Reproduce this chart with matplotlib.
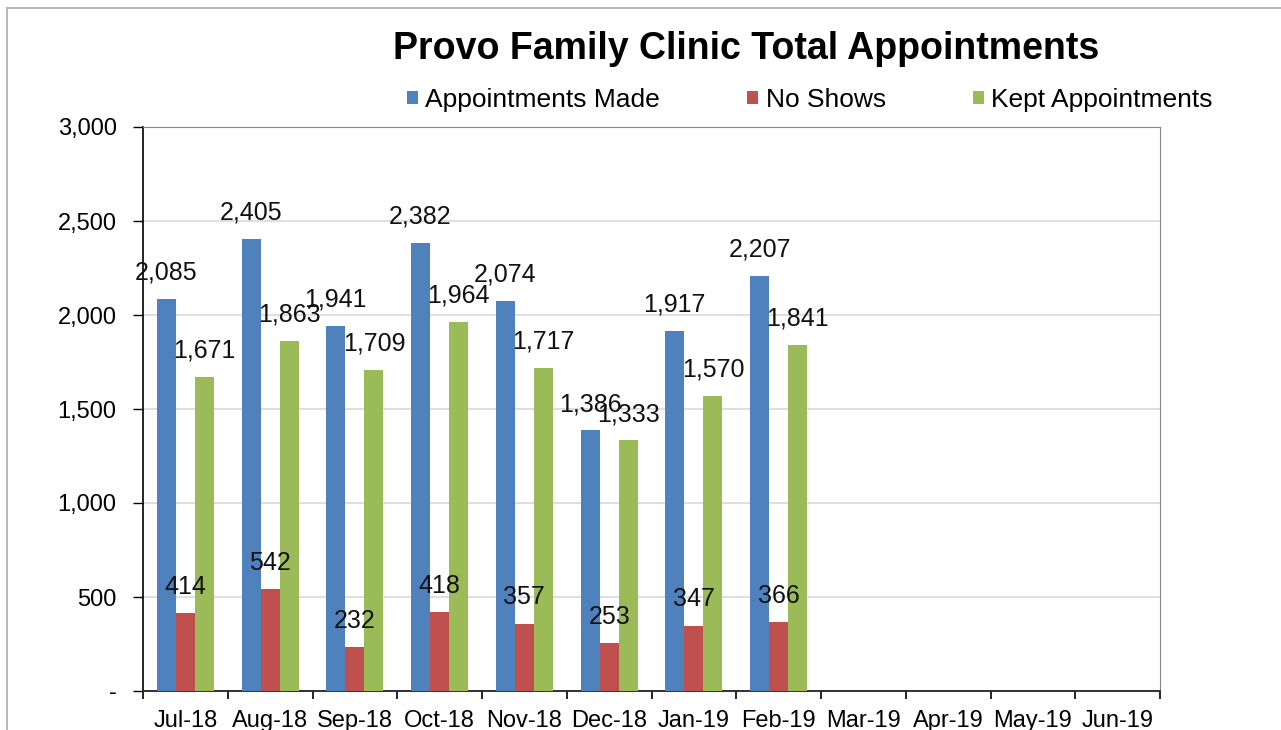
import matplotlib
matplotlib.use("Agg")
import matplotlib.pyplot as plt
import numpy as np
from matplotlib.patches import Rectangle

months = ["Jul-18", "Aug-18", "Sep-18", "Oct-18", "Nov-18", "Dec-18",
          "Jan-19", "Feb-19", "Mar-19", "Apr-19", "May-19", "Jun-19"]
made = [2085, 2405, 1941, 2382, 2074, 1386, 1917, 2207]
no_shows = [414, 542, 232, 418, 357, 253, 347, 366]
kept = [1671, 1863, 1709, 1964, 1717, 1333, 1570, 1841]
series_names = ["Appointments Made", "No Shows", "Kept Appointments"]
colors = ["#4F81BD", "#C0504D", "#9BBB59"]

plt.rcParams['font.family'] = ['Liberation Sans', 'DejaVu Sans']

fig = plt.figure(figsize=(12.81, 7.30), dpi=100)
ax = fig.add_axes([143/1281, 1-691/730, (1160-143)/1281, (691-127)/730])

n = len(months)
bw = 0.225
x = np.arange(len(made))
for i, (vals, c) in enumerate(zip([made, no_shows, kept], colors)):
    xs = x + (i - 1) * bw
    ax.bar(xs, vals, width=bw, color=c, zorder=3, label=series_names[i])
    for xi, v in zip(xs, vals):
        ax.annotate(f"{v:,}", (xi, v), xytext=(0, 19), textcoords="offset points",
                    ha="center", va="center", fontsize=18, color="#111111", zorder=5)

ax.set_xlim(-0.5, n - 0.5)
ax.set_ylim(0, 3000)
yt = np.arange(0, 3001, 500)
ax.set_yticks(yt)
ax.set_yticklabels(["-" if v == 0 else f"{v:,}" for v in yt], fontsize=17)
ax.set_xticks(np.arange(n))
ax.set_xticklabels(months, fontsize=17)
ax.set_xticks(np.arange(n + 1) - 0.5, minor=True)
ax.tick_params(axis='x', which='major', length=0, pad=14)
ax.tick_params(axis='x', which='minor', length=6, width=1.2, direction='out')
ax.tick_params(axis='y', which='major', length=7, width=1.0, direction='out', pad=12)
ax.grid(axis='y', color='#D9D9D9', linewidth=1.2, zorder=0)
ax.spines['left'].set_color('black')
ax.spines['left'].set_linewidth(1.2)
ax.spines['bottom'].set_color('#222222')
ax.spines['bottom'].set_linewidth(1.3)
ax.spines['top'].set_color('#888888')
ax.spines['right'].set_color('#888888')

fig.text(746/1281, 1-49/730, "Provo Family Clinic Total Appointments",
         ha="center", va="center", fontsize=27, fontweight="bold")

leg = fig.legend(loc="center", bbox_to_anchor=(810/1281, 1-100/730), ncol=3,
                 frameon=False, fontsize=19, handlelength=0.4, handleheight=0.4,
                 handletextpad=0.3, columnspacing=3.3)

fig.patches.append(Rectangle((7/1281, -0.1), 1.2, 1-8/730 + 0.1, transform=fig.transFigure,
                             fill=False, edgecolor="#AAAAAA", linewidth=1.2, zorder=0))

fig.savefig("out.png", dpi=100)
